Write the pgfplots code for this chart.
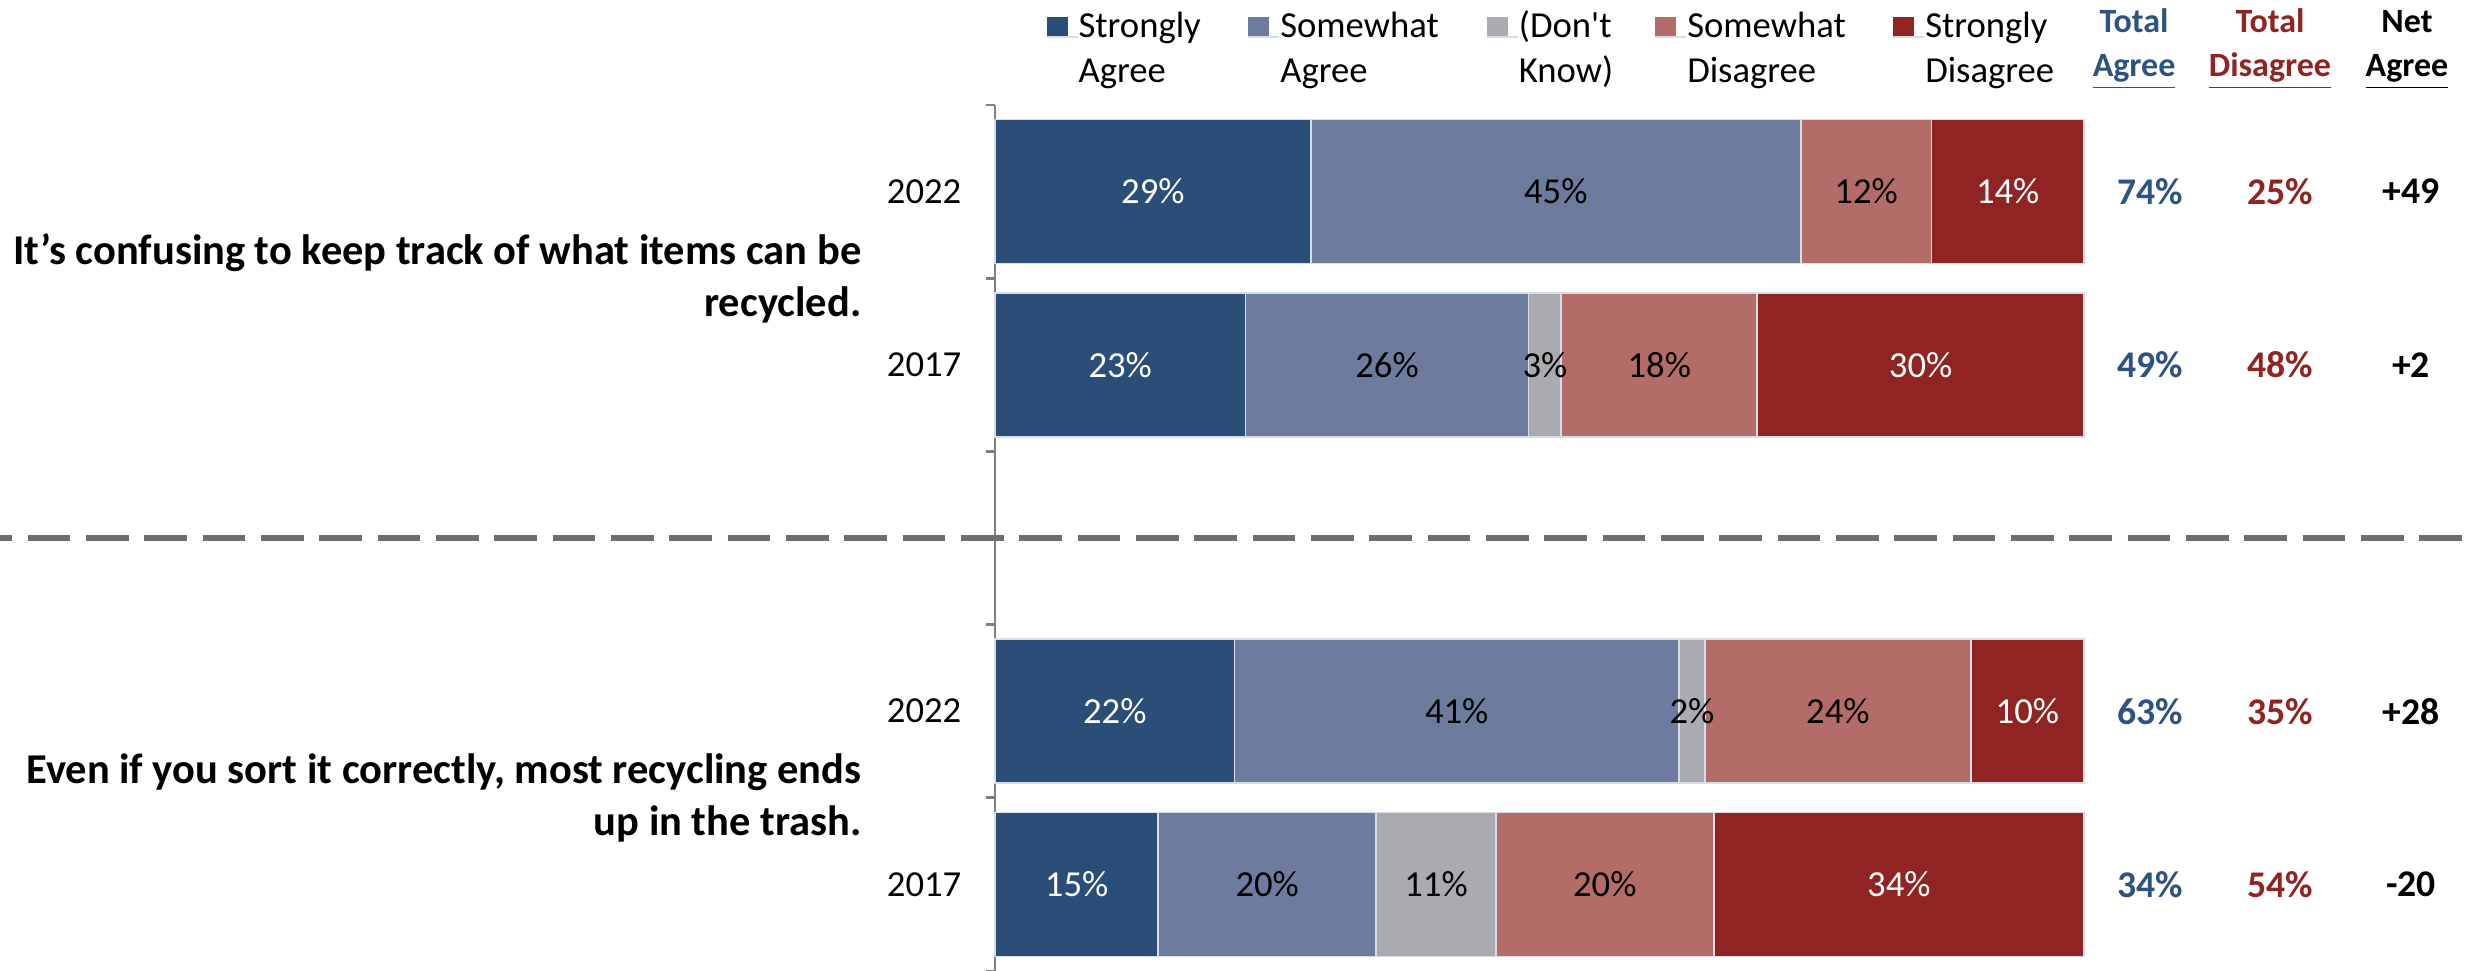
\documentclass[border=0pt]{standalone}
\usepackage{pgfplots}
\pgfplotsset{compat=1.18}
\usepackage{fontspec}
\setmainfont{Carlito}
\definecolor{cSA}{RGB}{42,78,119}
\definecolor{cSWA}{RGB}{109,124,158}
\definecolor{cDK}{RGB}{170,171,174}
\definecolor{cSWD}{RGB}{180,108,105}
\definecolor{cSD}{RGB}{143,36,34}
\definecolor{tA}{RGB}{44,83,130}
\definecolor{tD}{RGB}{143,36,34}
\definecolor{axgray}{RGB}{128,128,128}
\definecolor{dashgray}{RGB}{110,110,112}
\definecolor{edge}{RGB}{215,220,230}
\tikzset{hd/.style={anchor=base, font=\bfseries\fontsize{10.2}{12}\selectfont},
  tot/.style={font=\bfseries\fontsize{11.3}{13}\selectfont}}
\begin{document}
\begin{tikzpicture}
\useasboundingbox (-298.5pt,0pt) rectangle (446.7pt,291.3pt);
\begin{axis}[
  at={(0pt,0pt)}, anchor=south west,
  scale only axis, width=326.7pt, height=259.8pt,
  xbar stacked, bar width=43.2pt,
  xmin=0, xmax=100, ymin=-0.5, ymax=4.5,
  axis x line=none, axis y line*=left,
  xtick=\empty,
  y axis line style={axgray, line width=0.8pt},
  ytick={0,1,3,4}, yticklabels={2017,2022,2017,2022},
  major tick length=0pt,
  extra y ticks={-0.5,0.5,1.5,2.5,3.5,4.5},
  extra y tick labels={},
  extra y tick style={major tick length=2.7pt, tick align=outside, tick style={axgray, line width=0.8pt}},
  yticklabel style={font=\fontsize{11}{13}\selectfont, inner sep=0pt, xshift=-9.9pt},
  clip=false,
  nodes near coords={\pgfmathfloatifflags{\pgfplotspointmeta}{0}{}{\pgfmathprintnumber[assume math mode=true,fixed,precision=0]{\pgfplotspointmeta}\%}},
  every node near coord/.append style={font=\fontsize{11}{13}\selectfont},
  legend columns=5,
  legend style={at={(0.0468,1.11316)}, anchor=north west, draw=none, fill=none,
    inner sep=0pt, outer sep=0pt, column sep=0pt, row sep=0pt,
    font=\fontsize{11}{13.8}\selectfont,
    nodes={inner sep=0pt, outer sep=0pt, text depth=, text height=},
    cells={anchor=base west}},
  legend image code/.code={\fill[#1,draw=none] (0pt,0pt) rectangle (6.3pt,6pt); \path (0pt,0pt) -- (9.3pt,0pt);},
]
\addplot[fill=cSA, draw=edge, line width=0.5pt, every node near coord/.append style={text=white}]
  coordinates {(29,4) (23,3) (22,1) (15,0)};
\addplot[fill=cSWA, draw=edge, line width=0.5pt, every node near coord/.append style={text=black}]
  coordinates {(45,4) (26,3) (40.8,1) (20,0)};
\addplot[fill=cDK, draw=edge, line width=0.5pt, every node near coord/.append style={text=black}]
  coordinates {(0,4) (3,3) (2.4,1) (11,0)};
\addplot[fill=cSWD, draw=edge, line width=0.5pt, every node near coord/.append style={text=black}]
  coordinates {(12,4) (18,3) (24.4,1) (20,0)};
\addplot[fill=cSD, draw=edge, line width=0.5pt, every node near coord/.append style={text=white}]
  coordinates {(14,4) (30,3) (10.4,1) (34,0)};
\addlegendentry{\parbox[t]{50.7pt}{\rule{0pt}{9pt}Strongly\\Agree}}
\addlegendentry{\parbox[t]{61.8pt}{\rule{0pt}{9pt}Somewhat\\Agree}}
\addlegendentry{\parbox[t]{40.7pt}{\rule{0pt}{9pt}(Don\textquotesingle t\\Know)}}
\addlegendentry{\parbox[t]{61.6pt}{\rule{0pt}{9pt}Somewhat\\Disagree}}
\addlegendentry{\parbox[t]{60pt}{\rule{0pt}{9pt}Strongly\\Disagree}}

% headers
\node[hd, text=tA] at (axis cs:104.6,4.9157) {Total};
\node[hd, text=tA] at (axis cs:104.6,4.6617) {\underline{Agree}};
\node[hd, text=tD] at (axis cs:117.08,4.9157) {Total};
\node[hd, text=tD] at (axis cs:117.08,4.6617) {\underline{Disagree}};
\node[hd, text=black] at (axis cs:129.66,4.9157) {Net};
\node[hd, text=black] at (axis cs:129.66,4.6617) {\underline{Agree}};

% totals
\node[tot, text=tA] at (axis cs:106.06,4) {74\%};
\node[tot, text=tD] at (axis cs:118.0,4) {25\%};
\node[tot, text=black] at (axis cs:130.03,4) {+49};
\node[tot, text=tA] at (axis cs:106.06,3) {49\%};
\node[tot, text=tD] at (axis cs:118.0,3) {48\%};
\node[tot, text=black] at (axis cs:130.03,3) {+2};
\node[tot, text=tA] at (axis cs:106.06,1) {63\%};
\node[tot, text=tD] at (axis cs:118.0,1) {35\%};
\node[tot, text=black] at (axis cs:130.03,1) {+28};
\node[tot, text=tA] at (axis cs:106.06,0) {34\%};
\node[tot, text=tD] at (axis cs:118.0,0) {54\%};
\node[tot, text=black] at (axis cs:130.03,0) {-20};

% questions
\node[anchor=east, align=right, inner sep=0pt, font=\bfseries\fontsize{12.75}{15.5}\selectfont] at (axis cs:-12.2,3.5) {It’s confusing to keep track of what items can be\\recycled.};
\node[anchor=east, align=right, inner sep=0pt, font=\bfseries\fontsize{12.75}{15.5}\selectfont] at (axis cs:-12.2,0.5) {Even if you sort it correctly, most recycling ends\\up in the trash.};

% separator
\draw[dashgray, line width=1.7pt, dash pattern=on 12.8pt off 4.7pt, dash phase=9.2pt] (axis cs:-91.37,2) -- (axis cs:136,2);
\end{axis}
\end{tikzpicture}
\end{document}
